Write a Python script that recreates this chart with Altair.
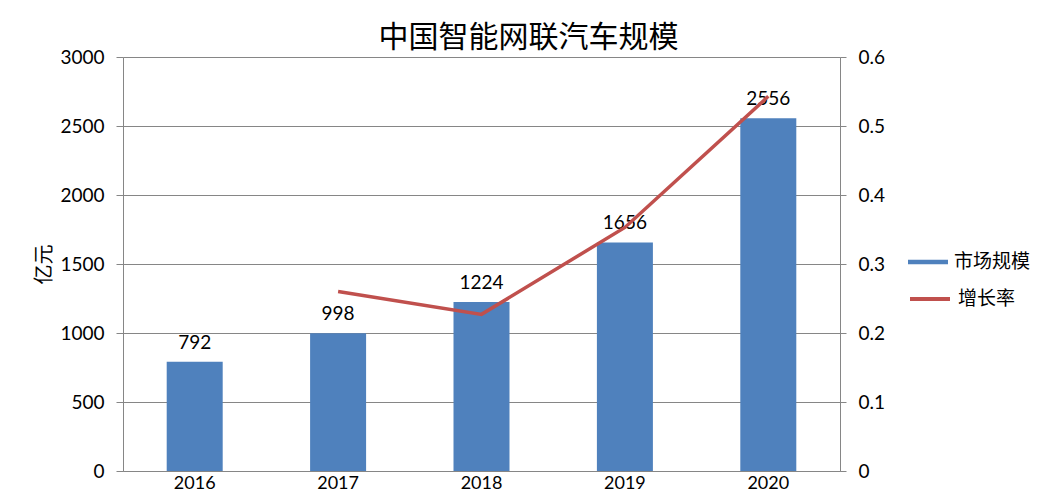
import altair as alt
import pandas as pd

years = ["2016", "2017", "2018", "2019", "2020"]
market = [792, 998, 1224, 1656, 2556]
growth_years = ["2017", "2018", "2019", "2020"]
growth = [0.26, 0.227, 0.353, 0.543]

bar_df = pd.DataFrame({"year": years, "value": market, "series": ["市场规模"] * 5})
line_df = pd.DataFrame({"year": growth_years, "rate": growth, "series2": ["增长率"] * 4})

NUM_FONT = "Lato"
CJK_FONT = "Noto Sans CJK SC"
GRID = "#868686"
BLUE = "#4F81BD"
RED = "#C0504D"

x_enc = alt.X("year:N", sort=years,
              scale=alt.Scale(paddingInner=0, paddingOuter=0),
              axis=alt.Axis(title=None, labelAngle=0, ticks=False, domain=True,
                            domainColor=GRID, labelFont=NUM_FONT, labelFontSize=18,
                            labelColor="black", labelPadding=3, grid=False,
                            labelBaseline="top"))

y_left = alt.Y("value:Q",
               scale=alt.Scale(domain=[0, 3000], nice=False),
               axis=alt.Axis(title="亿元", values=[0, 500, 1000, 1500, 2000, 2500, 3000],
                             format="d",
                             orient="left", grid=True, gridColor=GRID, gridWidth=1,
                             domainColor=GRID, tickColor=GRID, tickSize=7,
                             labelFont=NUM_FONT, labelFontSize=19, labelColor="black",
                             labelPadding=12, titleFont=CJK_FONT, titleFontSize=20,
                             titleFontWeight="normal", titleColor="black",
                             titleX=-79, titleY=207, titleBaseline="middle",
                             titleAlign="center", titleAngle=270))

bars = alt.Chart(bar_df).mark_bar(size=56, color=BLUE).encode(
    x=x_enc,
    y=y_left,
    color=alt.Color("series:N",
                    scale=alt.Scale(domain=["市场规模"], range=[BLUE]),
                    legend=alt.Legend(title=None, orient="none", legendX=785, legendY=185,
                                      symbolType="M-1,-0.11H1V0.11H-1Z", symbolSize=1600,
                                      symbolStrokeWidth=0, symbolOpacity=1,
                                      labelFont=CJK_FONT, labelFontSize=19,
                                      labelColor="black", labelOffset=6, padding=0)),
)

labels = alt.Chart(bar_df).mark_text(font=NUM_FONT, fontSize=19, color="black",
                                     baseline="alphabetic", dy=-13).encode(
    x=x_enc,
    y=alt.Y("value:Q"),
    text=alt.Text("value:Q"),
)

line = alt.Chart(line_df).mark_line(strokeWidth=3.5, color=RED).encode(
    x=x_enc,
    y=alt.Y("rate:Q",
            scale=alt.Scale(domain=[0, 0.6], nice=False),
            axis=alt.Axis(title=None, orient="right", values=[0, 0.1, 0.2, 0.3, 0.4, 0.5, 0.6],
                          format=".1~f", grid=False, domainColor=GRID, tickColor=GRID,
                          tickSize=6, labelFont=NUM_FONT, labelFontSize=19,
                          labelColor="black", labelPadding=12)),
    stroke=alt.Stroke("series2:N",
                      scale=alt.Scale(domain=["增长率"], range=[RED]),
                      legend=alt.Legend(title=None, orient="none", legendX=785, legendY=220,
                                        symbolType="stroke", symbolSize=1600,
                                        symbolStrokeWidth=4, symbolStrokeColor=RED,
                                        labelFont=CJK_FONT, labelFontSize=19,
                                        labelColor="black", labelOffset=6, padding=0)),
)

chart = alt.layer(alt.layer(bars, labels), line).resolve_scale(
    y="independent", color="independent", stroke="independent"
).properties(
    width=717,
    height=414,
    title=alt.TitleParams("中国智能网联汽车规模", font=CJK_FONT, fontSize=30,
                          fontWeight="normal", color="black", anchor="middle",
                          dx=47, offset=-5),
    autosize=alt.AutoSizeParams(type="none"),
    padding={"left": 115, "top": 49, "right": 210, "bottom": 30},
).configure_view(stroke=None).configure(background="white")

chart.save("out.html", embed_options={"renderer": "svg", "actions": False})
